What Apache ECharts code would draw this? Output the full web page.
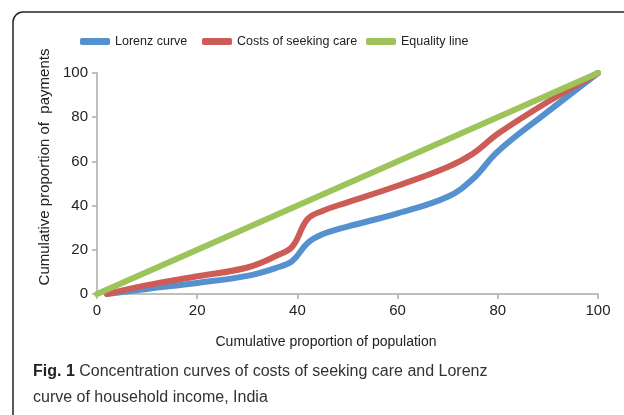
<!DOCTYPE html>
<html>
<head>
<meta charset="utf-8">
<script src="https://cdn.jsdelivr.net/npm/echarts@6/dist/echarts.min.js"></script>
<style>
  html, body { margin: 0; padding: 0; background: #fff; overflow: hidden; }
  #main { width: 624px; height: 415px; }
</style>
</head>
<body>
<div id="main"></div>
<script>
// cumulative share of population (%)
const popShare = [2, 10, 20, 30, 36, 39, 42, 45, 50, 60, 70, 75, 80, 90, 100];
// cumulative share of payments (%)
const lorenz = [0, 2.3, 5, 8.2, 12, 15, 23, 27, 30.5, 36.5, 44, 52, 64.5, 82.5, 100];
const costs = [0, 4, 8, 12, 17.5, 21.5, 33.8, 37.6, 41.5, 49, 57.5, 63.5, 72.5, 87, 100];
const equalityX = [0, 100];
const equality = [0, 100];

const names = ['Lorenz curve', 'Costs of seeking care', 'Equality line'];
const colors = ['#5591cf', '#cd5c57', '#9dc35b'];
const font = "'Liberation Sans', Arial, sans-serif";

function pairs(xs, ys) {
  return xs.map((x, i) => [x, ys[i]]);
}

function legendAt(i, left) {
  return {
    data: [names[i]],
    left: left,
    top: 30,
    icon: 'roundRect',
    itemWidth: 30,
    itemHeight: 7,
    textStyle: { fontFamily: font, fontSize: 12.5, color: '#222' }
  };
}

const frameStyle = { fill: 'none', stroke: '#222', lineWidth: 1.5 };

const chart = echarts.init(document.getElementById('main'));
chart.setOption({
  animation: false,
  backgroundColor: '#fff',
  color: colors,
  legend: [legendAt(0, 75), legendAt(1, 197), legendAt(2, 361)],
  grid: { left: 97, right: 26, top: 73, bottom: 121 },
  xAxis: {
    type: 'value',
    min: 0,
    max: 100,
    interval: 20,
    splitLine: { show: false },
    axisLine: { lineStyle: { color: '#aaa', width: 1.5 } },
    axisTick: { show: true, length: 5, lineStyle: { color: '#aaa', width: 1.5 } },
    axisLabel: { margin: 9, fontFamily: font, fontSize: 15, color: '#222' }
  },
  yAxis: {
    type: 'value',
    min: 0,
    max: 100,
    interval: 20,
    splitLine: { show: false },
    axisLine: { show: true, lineStyle: { color: '#aaa', width: 1.5 } },
    axisTick: { show: true, length: 5, lineStyle: { color: '#aaa', width: 1.5 } },
    axisLabel: { margin: 9, fontFamily: font, fontSize: 15, color: '#222' }
  },
  series: [
    {
      name: names[0], type: 'line', smooth: 0.4, symbol: 'none',
      lineStyle: { width: 6, cap: 'round', join: 'round' },
      data: pairs(popShare, lorenz)
    },
    {
      name: names[1], type: 'line', smooth: 0.4, symbol: 'none',
      lineStyle: { width: 6, cap: 'round', join: 'round' },
      data: pairs(popShare, costs)
    },
    {
      name: names[2], type: 'line', symbol: 'none',
      lineStyle: { width: 6, cap: 'round' },
      data: pairs(equalityX, equality)
    }
  ],
  graphic: [
    // frame: only the left and top edges are visible
    { type: 'polyline', silent: true, shape: { points: [[13, 430], [13, 22]] }, style: frameStyle },
    { type: 'polyline', silent: true, shape: { points: [[23, 12], [624, 12]] }, style: frameStyle },
    {
      type: 'arc', silent: true,
      shape: { cx: 23, cy: 22, r: 10, startAngle: Math.PI, endAngle: Math.PI * 1.5 },
      style: frameStyle
    },
    {
      type: 'text', x: 45, y: 167, rotation: Math.PI / 2,
      style: {
        text: 'Cumulative proportion of  payments',
        fontFamily: font, fontSize: 15, fill: '#222',
        align: 'center', verticalAlign: 'middle'
      }
    },
    {
      type: 'text', x: 326, y: 342,
      style: {
        text: 'Cumulative proportion of population',
        fontFamily: font, fontSize: 14, fill: '#222',
        align: 'center', verticalAlign: 'middle'
      }
    },
    {
      type: 'text', left: 33, top: 359,
      style: {
        text: '{b|Fig. 1} Concentration curves of costs of seeking care and Lorenz\ncurve of household income, India',
        fontFamily: font, fontSize: 16, lineHeight: 26, fill: '#333',
        rich: {
          b: { fontFamily: font, fontSize: 16, fontWeight: 'bold', fill: '#222' }
        }
      }
    }
  ]
});
</script>
</body>
</html>
